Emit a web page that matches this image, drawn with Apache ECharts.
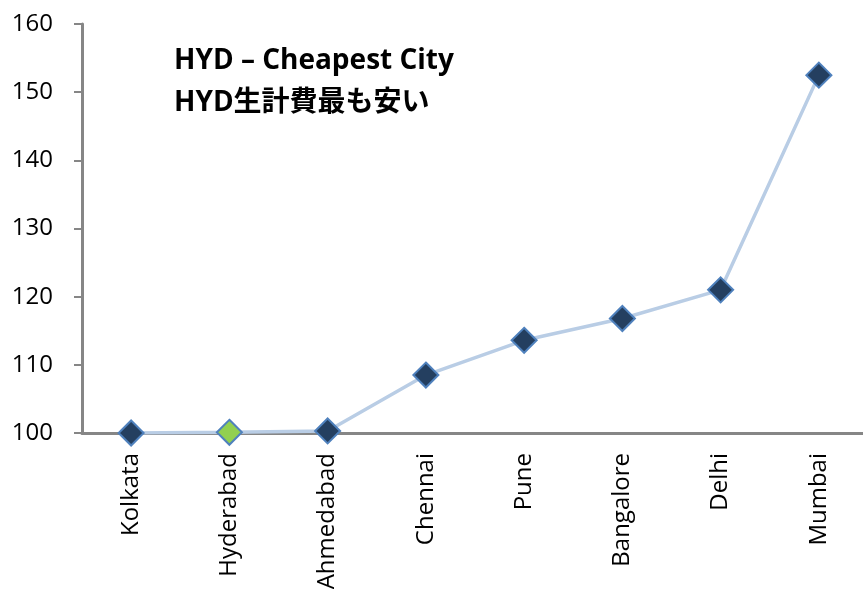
<!DOCTYPE html>
<html>
<head>
<meta charset="utf-8">
<script src="https://cdn.jsdelivr.net/npm/echarts@6/dist/echarts.min.js"></script>
<style>
html,body{margin:0;padding:0;background:#fff;}
#main{width:863px;height:589px;}
</style>
</head>
<body>
<div id="main"></div>
<script>
var cities = ['Kolkata', 'Hyderabad', 'Ahmedabad', 'Chennai', 'Pune', 'Bangalore', 'Delhi', 'Mumbai'];
var costIndex = [100, 100.1, 100.3, 108.5, 113.6, 116.8, 121, 152.5];
var highlightCity = 'Hyderabad';

window.onload = function () {
    var chart = echarts.init(document.getElementById('main'));

    var points = cities.map(function (c, i) {
        var p = { value: costIndex[i] };
        if (c === highlightCity) {
            p.itemStyle = { color: '#92D050' };
        }
        return p;
    });

    chart.setOption({
        animation: false,
        title: {
            text: 'HYD – Cheapest City\nHYD生計費最も安い',
            left: 169,
            top: 35,
            textStyle: {
                fontFamily: '"Open Sans", "Noto Sans CJK JP"',
                fontWeight: 'bold',
                fontSize: 28,
                lineHeight: 42,
                color: '#000'
            }
        },
        // labels overflow the bottom in the original, keep the grid fixed
        grid: { left: 82, top: 24, width: 786, height: 409, outerBoundsMode: 'none' },
        xAxis: {
            type: 'category',
            data: cities,
            boundaryGap: true,
            axisLine: { lineStyle: { color: '#868686', width: 3 } },
            axisTick: { show: false },
            axisLabel: {
                rotate: 90,
                margin: 20,
                fontSize: 24,
                fontFamily: '"Open Sans"',
                color: '#000'
            }
        },
        yAxis: {
            type: 'value',
            min: 100,
            max: 160,
            interval: 10,
            splitLine: { show: false },
            axisLine: { show: true, lineStyle: { color: '#868686', width: 3 } },
            axisTick: { show: true, length: 8, lineStyle: { color: '#868686', width: 2 } },
            axisLabel: {
                margin: 29,
                fontSize: 24,
                fontFamily: '"Open Sans"',
                color: '#000'
            }
        },
        series: [{
            type: 'line',
            data: points,
            symbol: 'diamond',
            symbolSize: 25,
            lineStyle: { color: '#B9CDE5', width: 3.5 },
            itemStyle: { color: '#243F60', borderColor: '#4F81BD', borderWidth: 2 },
            z: 3
        }]
    });
};
</script>
</body>
</html>
